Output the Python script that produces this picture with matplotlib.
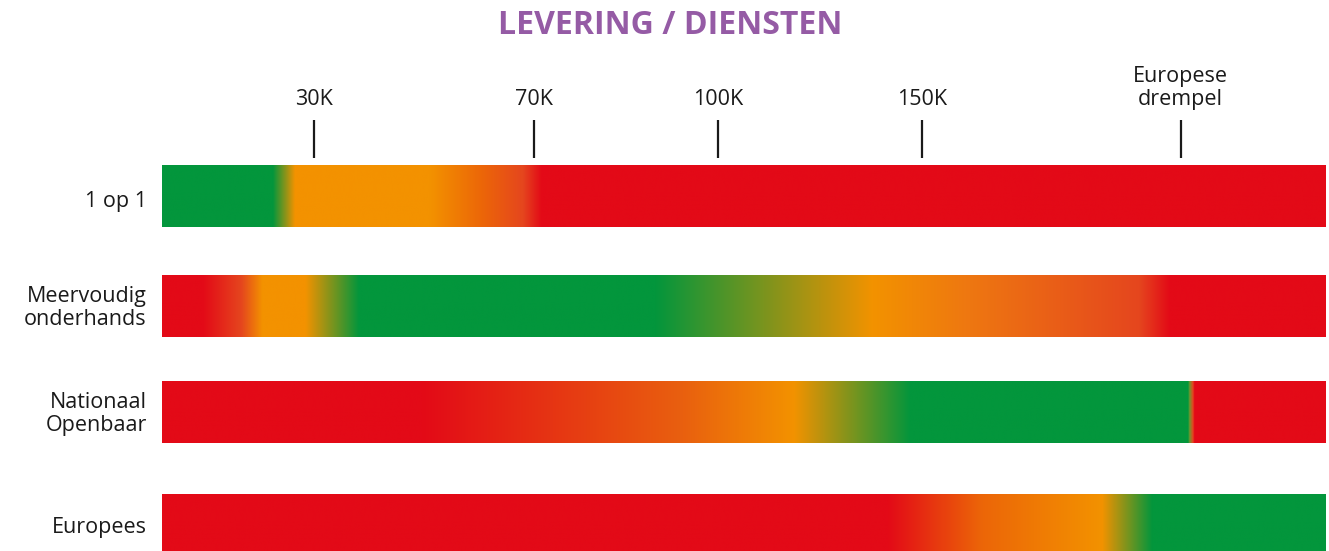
import numpy as np
import matplotlib.pyplot as plt
from matplotlib.colors import to_rgb

# colours used in the bars
GREEN = '#03963C'
ORANGE = '#F39200'
DORANGE = '#EC6608'
RORANGE = '#E5461E'
RED = '#E30A17'

title = 'LEVERING / DIENSTEN'
rows = ['1 op 1', 'Meervoudig\nonderhands', 'Nationaal\nOpenbaar', 'Europees']

# threshold ticks, position along the bar in % of its length
tick_labels = ['30K', '70K', '100K', '150K', 'Europese\ndrempel']
tick_pos = [13.1, 32.0, 47.8, 65.3, 87.5]

# colour stops per row: (position %, colour)
stops_1op1 = [(0, GREEN), (9.5, GREEN), (11.4, ORANGE), (23.0, ORANGE),
              (27.5, DORANGE), (31.0, RORANGE), (32.6, RED), (100, RED)]
stops_meerv = [(0, RED), (3.5, RED), (6.8, RORANGE), (8.6, ORANGE), (12.3, ORANGE),
               (16.9, GREEN), (42.4, GREEN), (61.1, ORANGE), (69.4, '#EE7711'),
               (84.0, RORANGE), (86.6, RED), (100, RED)]
stops_nat = [(0, RED), (22.4, RED), (44.8, '#E9600F'), (54.3, ORANGE), (64.3, GREEN),
             (88.2, GREEN), (88.3, '#6A9A30'), (88.6, RORANGE), (88.75, RED), (100, RED)]
stops_eur = [(0, RED), (62.4, RED), (70.5, DORANGE), (80.8, ORANGE), (85.1, GREEN), (100, GREEN)]
all_stops = [stops_1op1, stops_meerv, stops_nat, stops_eur]


def gradient(stops, n=1200):
    xs = np.linspace(0, 100, n)
    pos = [s[0] for s in stops]
    cols = np.array([to_rgb(s[1]) for s in stops])
    img = np.stack([np.interp(xs, pos, cols[:, k]) for k in range(3)], axis=-1)
    return img[np.newaxis, :, :]


W, H = 1329, 551
fig = plt.figure(figsize=(W / 100, H / 100), dpi=100)
ax = fig.add_axes([162 / W, 0, (1326 - 162) / W, 1])

# vertical layout in pixels from the top
ax.set_xlim(0, 100)
ax.set_ylim(H, 0)
ax.axis('off')
row_y = [196, 306, 412, 525]
bar_h = 62
lab_kw = dict(fontsize=15.5, family='Open Sans', color='#1a1a1a', linespacing=1.12)

for i, st in enumerate(all_stops):
    y = row_y[i]
    ax.imshow(gradient(st), aspect='auto',
              extent=(0, 100, y + bar_h / 2, y - bar_h / 2), interpolation='bilinear')
    ax.text(-1.3, y + (5 if i == 0 else 2), rows[i], ha='right', va='center', **lab_kw)

for p, lab in zip(tick_pos, tick_labels):
    ax.plot([p, p], [120, 158], color='#1a1a1a', lw=1.6, solid_capstyle='butt')
    ax.text(p, 110, lab, ha='center', va='bottom', **lab_kw)

ax.set_ylim(H, 0)
fig.text(670 / W, 1 - 26 / H, title, ha='center', va='center', fontsize=23,
         fontweight='bold', family='Open Sans', color='#955BA5')

fig.savefig('out.png', dpi=100)
